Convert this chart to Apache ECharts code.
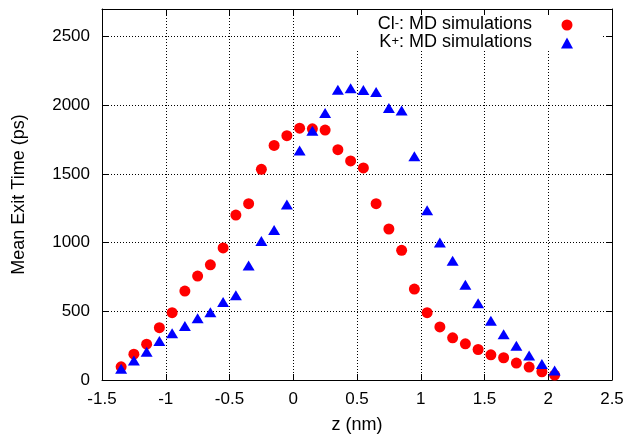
<!DOCTYPE html>
<html>
<head>
<meta charset="utf-8">
<script src="https://cdn.jsdelivr.net/npm/echarts@6/dist/echarts.min.js"></script>
<style>
html,body{margin:0;padding:0;background:#fff;}
#chart{width:629px;height:439px;}
</style>
</head>
<body>
<div id="chart"></div>
<script>
// z positions (nm)
var zValues = [-1.35,-1.25,-1.15,-1.05,-0.95,-0.85,-0.75,-0.65,-0.55,-0.45,-0.35,-0.25,-0.15,-0.05,0.05,0.15,0.25,0.35,0.45,0.55,0.65,0.75,0.85,0.95,1.05,1.15,1.25,1.35,1.45,1.55,1.65,1.75,1.85,1.95,2.05];
// Cl- mean exit time (ps)
var clValues = [96,188,261,381,490,647,756,838,961,1200,1283,1533,1707,1778,1833,1828,1819,1676,1594,1543,1283,1099,944,662,490,386,307,263,222,183,162,123,94,60,36];
// K+ mean exit time (ps)
var kValues = [82,142,205,283,340,393,449,493,567,616,833,1012,1091,1278,1671,1814,1944,2113,2123,2111,2096,1980,1961,1628,1236,1000,867,693,558,432,333,249,178,116,70];
var xTickLabels = ['-1.5','-1','-0.5','0','0.5','1','1.5','2','2.5'];
var yTickLabels = ['0','500','1000','1500','2000','2500'];
var seriesNames = ['Cl-: MD simulations','K+: MD simulations'];

function pairs(xs, ys){ return xs.map(function(x,i){ return [x, ys[i]]; }); }

var FONT = 'Liberation Sans, Arial, sans-serif';
var chart = echarts.init(document.getElementById('chart'), null, {renderer:'canvas'});
var tickStyle = {show:true, inside:true, length:6, lineStyle:{color:'#000', width:1}};
var lineStyle = {show:true, onZero:false, lineStyle:{color:'#000', width:1}};
var gridStyle = {show:true, lineStyle:{color:'#000', width:1, type:[1,2]}};

chart.setOption({
  animation:false,
  backgroundColor:'#fff',
  textStyle:{fontFamily:FONT},
  grid:{left:102, right:17, top:9, bottom:57, containLabel:false},
  xAxis:[{
    type:'value', min:-1.5, max:2.5, interval:0.5, position:'bottom',
    name:'z (nm)', nameLocation:'middle', nameGap:36,
    nameTextStyle:{fontSize:18, color:'#000', fontFamily:FONT},
    axisLine:lineStyle, axisTick:tickStyle, splitLine:gridStyle,
    axisLabel:{fontSize:17, color:'#000', margin:11, fontFamily:FONT,
      formatter:function(v){ var i=Math.round((v+1.5)/0.5); return xTickLabels[i]; }}
  },{
    type:'value', min:-1.5, max:2.5, interval:0.5, position:'top', z:5,
    axisLine:lineStyle, axisTick:tickStyle, splitLine:{show:false}, axisLabel:{show:false}
  }],
  yAxis:[{
    type:'value', min:0, max:2700, interval:500, position:'left',
    name:'Mean Exit Time (ps)', nameLocation:'middle', nameGap:74,
    nameTextStyle:{fontSize:18, color:'#000', fontFamily:FONT},
    axisLine:lineStyle, axisTick:tickStyle, splitLine:gridStyle,
    axisLabel:{fontSize:17, color:'#000', margin:12, showMaxLabel:false, fontFamily:FONT,
      formatter:function(v){ var i=Math.round(v/500); return (v%500===0 && yTickLabels[i]!==undefined) ? yTickLabels[i] : ''; }}
  },{
    type:'value', min:0, max:2700, interval:500, position:'right', z:5,
    axisLine:lineStyle, axisTick:tickStyle, splitLine:{show:false}, axisLabel:{show:false}
  }],
  graphic:[{
    type:'rect', z:1, silent:true,
    shape:{x:340, y:10, width:262, height:40},
    style:{fill:'#fff'}
  }],
  legend:{
    orient:'vertical', right:56, top:15, align:'right', padding:0,
    itemWidth:12, itemHeight:11, itemGap:0, z:6,
    data:[{name:seriesNames[0], icon:'circle'},{name:seriesNames[1], icon:'triangle'}],
    formatter:function(name){
      if(name===seriesNames[0]) return '{b|Cl}{s|-}{b|: MD simulations}';
      return '{b|K}{s|+}{b|: MD simulations}';
    },
    textStyle:{color:'#000', fontFamily:FONT, padding:[0,24,0,0],
      rich:{
        b:{fontSize:18, color:'#000', fontFamily:FONT, lineHeight:16, verticalAlign:'bottom'},
        s:{fontSize:13, color:'#000', fontFamily:FONT, lineHeight:8, verticalAlign:'top'}
      }}
  },
  series:[{
    name:seriesNames[0], type:'scatter', xAxisIndex:0, yAxisIndex:0,
    symbol:'circle', symbolSize:11,
    itemStyle:{color:'#ff0000', opacity:1},
    data:pairs(zValues, clValues), z:3
  },{
    name:seriesNames[1], type:'scatter', xAxisIndex:0, yAxisIndex:0,
    symbol:'triangle', symbolSize:[12,10],
    itemStyle:{color:'#0000ff', opacity:1},
    data:pairs(zValues, kValues), z:4
  }]
});
</script>
</body>
</html>
